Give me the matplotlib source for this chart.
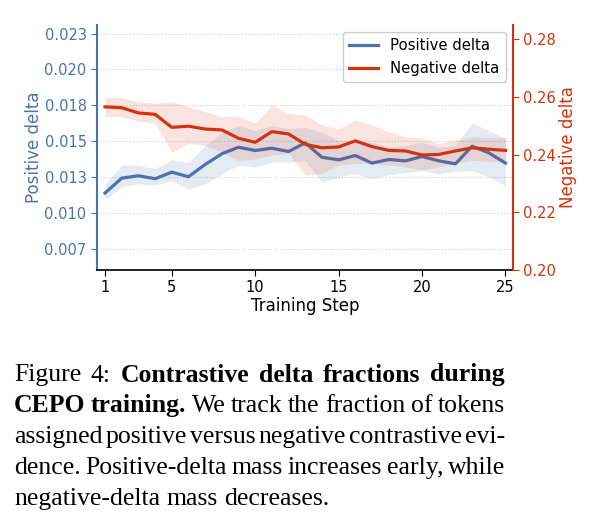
import matplotlib
matplotlib.use("Agg")
import matplotlib.pyplot as plt
import numpy as np

# ---------------- data ----------------
steps = np.arange(1, 26)
x_ticks = [1, 5, 10, 15, 20, 25]

pos_mean = [0.01137, 0.01241, 0.01258, 0.01237, 0.01283, 0.01251, 0.01336, 0.01411,
            0.01457, 0.01434, 0.01450, 0.01427, 0.01487, 0.01387, 0.01369, 0.01399,
            0.01346, 0.01371, 0.01362, 0.01392, 0.01362, 0.01341, 0.01464, 0.01418,
            0.01346]
pos_high = [0.01202, 0.01334, 0.01330, 0.01307, 0.01371, 0.01348, 0.01469, 0.01561,
            0.01608, 0.01573, 0.01608, 0.01585, 0.01596, 0.01561, 0.01503, 0.01503,
            0.01492, 0.01457, 0.01469, 0.01492, 0.01457, 0.01469, 0.01627, 0.01573,
            0.01519]
pos_low = [0.01093, 0.01179, 0.01202, 0.01190, 0.01225, 0.01163, 0.01202, 0.01272,
           0.01330, 0.01318, 0.01352, 0.01352, 0.01364, 0.01213, 0.01248, 0.01272,
           0.01237, 0.01265, 0.01279, 0.01295, 0.01272, 0.01288, 0.01295, 0.01248,
           0.01190]

neg_mean = [0.2566, 0.2563, 0.2545, 0.2540, 0.2495, 0.2499, 0.2489, 0.2486,
            0.2457, 0.2443, 0.2480, 0.2472, 0.2436, 0.2424, 0.2427, 0.2448,
            0.2428, 0.2415, 0.2413, 0.2399, 0.2401, 0.2413, 0.2424, 0.2419,
            0.2415]
neg_high = [0.2599, 0.2598, 0.2584, 0.2578, 0.2584, 0.2566, 0.2549, 0.2532,
            0.2532, 0.2509, 0.2572, 0.2543, 0.2538, 0.2503, 0.2491, 0.2520,
            0.2503, 0.2480, 0.2462, 0.2457, 0.2439, 0.2451, 0.2462, 0.2459,
            0.2459]
neg_low = [0.2532, 0.2532, 0.2517, 0.2509, 0.2410, 0.2439, 0.2433, 0.2409,
           0.2381, 0.2385, 0.2399, 0.2405, 0.2329, 0.2335, 0.2364, 0.2370,
           0.2370, 0.2364, 0.2358, 0.2347, 0.2358, 0.2370, 0.2381, 0.2376,
           0.2376]

pos_ticks = [0.0075, 0.0100, 0.0125, 0.0150, 0.0175, 0.0200, 0.0225]
pos_tick_labels = ["0.007", "0.010", "0.013", "0.015", "0.018", "0.020", "0.023"]
neg_ticks = [0.20, 0.22, 0.24, 0.26, 0.28]
neg_tick_labels = ["0.20", "0.22", "0.24", "0.26", "0.28"]

caption_lines = [
    [("Figure", False), ("4:", False), ("Contrastive", True), ("delta", True),
     ("fractions", True), ("during", True)],
    [("CEPO", True), ("training.", True), ("We", False), ("track", False), ("the", False),
     ("fraction", False), ("of", False), ("tokens", False)],
    [(w, False) for w in "assigned positive versus negative contrastive evi-".split()],
    [(w, False) for w in "dence. Positive-delta mass increases early, while".split()],
    [(w, False) for w in "negative-delta mass decreases.".split()],
]

# ---------------- style ----------------
BLUE = "#4C72B0"
RED = "#D2330F"
W, H = 606, 531

fig = plt.figure(figsize=(W / 100, H / 100), dpi=100)
ax = fig.add_axes([97 / W, 1 - 270 / H, (513 - 97) / W, (270 - 25) / H])
ax2 = ax.twinx()

ax.fill_between(steps, pos_low, pos_high, color=BLUE, alpha=0.14, lw=0)
l1, = ax.plot(steps, pos_mean, color=BLUE, lw=2.3, label="Positive delta")
ax2.fill_between(steps, neg_low, neg_high, color=RED, alpha=0.13, lw=0)
l2, = ax2.plot(steps, neg_mean, color=RED, lw=2.3, label="Negative delta")

ax.set_xlim(0.52, 25.45)
ax.set_ylim(0.006, 0.0231)
ax.set_yticks(pos_ticks)
ax.set_yticklabels(pos_tick_labels)
ax2.set_ylim(0.20, 0.285)
ax2.set_yticks(neg_ticks)
ax2.set_yticklabels(neg_tick_labels)
ax.set_xticks(x_ticks)
ax.set_xticklabels([str(t) for t in x_ticks])

ax.yaxis.grid(True, linestyle=":", color="#d0d0d0", linewidth=0.8)
ax.set_axisbelow(True)

for a in (ax, ax2):
    a.spines["top"].set_visible(False)
ax.spines["right"].set_visible(False)
ax2.spines["left"].set_visible(False)
ax2.spines["bottom"].set_visible(False)
ax.spines["left"].set_color(BLUE)
ax.spines["left"].set_linewidth(1.5)
ax2.spines["right"].set_color(RED)
ax2.spines["right"].set_linewidth(1.5)
ax.spines["bottom"].set_linewidth(1.2)

ax.tick_params(axis="y", colors=BLUE, labelsize=10.5, length=4)
ax.tick_params(axis="x", colors="black", labelsize=10.5, length=4)
ax2.tick_params(axis="y", colors=RED, labelsize=10.5, length=4)

ax.set_ylabel("Positive delta", color=BLUE, fontsize=12, labelpad=1)
ax2.set_ylabel("Negative delta", color=RED, fontsize=12, labelpad=2)
ax.set_xlabel("Training Step", fontsize=12, labelpad=1)

leg = ax2.legend(handles=[l1, l2], loc="upper right", fontsize=10.7,
                 framealpha=1.0, edgecolor="#cccccc")

# ---------------- caption ----------------
FS = 18.5
FAM = "Liberation Serif"
fig.canvas.draw()
renderer = fig.canvas.get_renderer()


def word_width(s, bold):
    t = fig.text(0, 0, s, fontsize=FS, family=FAM, weight="bold" if bold else "normal")
    w = t.get_window_extent(renderer).width
    t.remove()
    return w


space_w = word_width("a a", False) - 2 * word_width("a", False)
x_left, x_right = 14, 505
base0, dy = 381.5, 30.9
for i, line in enumerate(caption_lines):
    widths = [word_width(s, b) for s, b in line]
    if i < len(caption_lines) - 1 and len(line) > 1:
        gap = (x_right - x_left - sum(widths)) / (len(line) - 1)
    else:
        gap = space_w
    x = x_left
    yb = base0 + i * dy
    for (s, b), w in zip(line, widths):
        fig.text(x / W, 1 - yb / H, s, fontsize=FS, family=FAM,
                 weight="bold" if b else "normal", va="baseline", ha="left")
        x += w + gap

fig.savefig("out.png", dpi=100)
